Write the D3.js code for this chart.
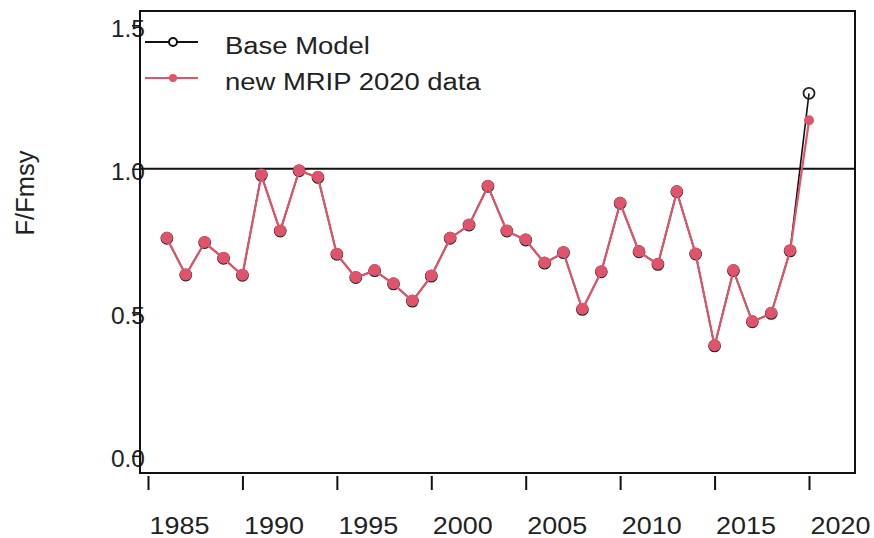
<!DOCTYPE html>
<html lang="en">
  <head>
    <meta charset="utf-8">
    <script type="text/javascript" src="https://cdn.jsdelivr.net/npm/d3@7/dist/d3.min.js"></script>
    <style>
      body { margin: 0; background: #fff; }
      text { font-family: "Liberation Sans", Arial, sans-serif; fill: #222; }
    </style>
  </head>
  <body>
    <svg id="chart"></svg>
  </body>
  <script type="text/javascript">
    var width = 874;
    var height = 538;

    // data
    var years = [1986, 1987, 1988, 1989, 1990, 1991, 1992, 1993, 1994, 1995,
                 1996, 1997, 1998, 1999, 2000, 2001, 2002, 2003, 2004, 2005,
                 2006, 2007, 2008, 2009, 2010, 2011, 2012, 2013, 2014, 2015,
                 2016, 2017, 2018, 2019, 2020];
    var baseModel = [0.758, 0.630, 0.743, 0.688, 0.629, 0.978, 0.783, 0.993, 0.970, 0.702,
                     0.621, 0.645, 0.599, 0.539, 0.626, 0.758, 0.804, 0.939, 0.783, 0.752,
                     0.671, 0.708, 0.510, 0.641, 0.880, 0.711, 0.667, 0.920, 0.703, 0.383,
                     0.645, 0.467, 0.496, 0.714, 1.263];
    var newMrip = [0.758, 0.630, 0.743, 0.688, 0.629, 0.978, 0.783, 0.993, 0.970, 0.702,
                   0.621, 0.645, 0.599, 0.539, 0.626, 0.758, 0.804, 0.939, 0.783, 0.752,
                   0.671, 0.708, 0.510, 0.641, 0.880, 0.711, 0.667, 0.920, 0.703, 0.383,
                   0.645, 0.467, 0.496, 0.714, 1.167];
    var xTicks = [1985, 1990, 1995, 2000, 2005, 2010, 2015, 2020];
    var yTicks = [0, 0.5, 1.0, 1.5];
    var seriesNames = ["Base Model", "new MRIP 2020 data"];
    var refLine = 1.0;

    var red = "#DF536B";
    var box = {left: 140, right: 855, top: 11, bottom: 473};

    var svg = d3.select("#chart").attr("width", width).attr("height", height);

    // scales
    var x = d3.scaleLinear().domain([1985, 2020]).range([148, 809]);
    var y = d3.scaleLinear().domain([0, 1.5]).range([455.8, 25.3]);

    var baseData = years.map(function(d, i) { return {year: d, v: baseModel[i]}; });
    var newData = years.map(function(d, i) { return {year: d, v: newMrip[i]}; });

    // x axis (ticks below the box, labels shifted right like the original)
    var xAxis = d3.axisBottom(x).tickValues(xTicks).tickSize(14).tickPadding(0)
      .tickFormat(d3.format("d"));
    var gx = svg.append("g")
      .attr("transform", "translate(0," + (box.bottom + 3) + ")")
      .call(xAxis);
    gx.select(".domain").remove();
    gx.selectAll(".tick line").attr("stroke", "#111").attr("stroke-width", 2);
    gx.selectAll(".tick text")
      .attr("y", 0).attr("dy", 0)
      .attr("transform", "translate(31,58) scale(1.1,1)")
      .style("font-size", "24.5px")
      .attr("fill", "#222");

    // y axis
    var yAxis = d3.axisLeft(y).tickValues(yTicks).tickSize(8).tickPadding(0)
      .tickFormat(d3.format(".1f"));
    var gy = svg.append("g")
      .attr("transform", "translate(" + box.left + ",0)")
      .call(yAxis);
    gy.select(".domain").remove();
    gy.selectAll(".tick line").attr("stroke", "#111").attr("stroke-width", 1.5);
    gy.selectAll(".tick text")
      .attr("x", 5).attr("dy", 0).attr("y", 11)
      .attr("text-anchor", "end")
      .style("font-size", "24.5px")
      .attr("fill", "#222");

    // reference line at 1
    svg.append("line")
      .attr("x1", box.left).attr("x2", box.right)
      .attr("y1", y(refLine)).attr("y2", y(refLine))
      .attr("stroke", "#111").attr("stroke-width", 2);

    var line = d3.line()
      .x(function(d) { return x(d.year); })
      .y(function(d) { return y(d.v); });

    // base model
    svg.append("path").datum(baseData)
      .attr("d", line).attr("fill", "none")
      .attr("stroke", "#111").attr("stroke-width", 1.6);
    svg.selectAll("circle.base").data(baseData).enter()
      .append("circle").attr("class", "base")
      .attr("cx", function(d) { return x(d.year); })
      .attr("cy", function(d) { return y(d.v); })
      .attr("r", 5.5)
      .attr("fill", "none").attr("stroke", "#222").attr("stroke-width", 1.8);

    // new MRIP
    svg.append("path").datum(newData)
      .attr("d", line).attr("fill", "none")
      .attr("stroke", red).attr("stroke-width", 2.2);
    svg.selectAll("circle.newm").data(newData).enter()
      .append("circle").attr("class", "newm")
      .attr("cx", function(d) { return x(d.year); })
      .attr("cy", function(d, i) { return y(d.v) - 0.6; })
      .attr("r", function(d, i) { return i === newData.length - 1 ? 5 : 6; })
      .attr("fill", red);

    // box
    svg.append("rect")
      .attr("x", box.left).attr("y", box.top)
      .attr("width", box.right - box.left).attr("height", box.bottom - box.top)
      .attr("fill", "none").attr("stroke", "#111").attr("stroke-width", 2);

    // y label
    svg.append("text")
      .attr("transform", "translate(34,193) rotate(-90)")
      .attr("text-anchor", "middle")
      .style("font-size", "25.5px")
      .text("F/Fmsy");

    // legend
    var legColors = ["#111", red];
    var leg = svg.selectAll("g.leg").data(seriesNames).enter()
      .append("g").attr("class", "leg")
      .attr("transform", function(d, i) { return "translate(0," + (42 + i * 36) + ")"; });
    leg.append("line")
      .attr("x1", 145).attr("x2", 198).attr("y1", 0).attr("y2", 0)
      .attr("stroke", function(d, i) { return legColors[i]; })
      .attr("stroke-width", function(d, i) { return i ? 2.2 : 1.8; });
    leg.append("circle")
      .attr("cx", 173).attr("cy", 0).attr("r", 4)
      .attr("fill", function(d, i) { return i ? red : "#fff"; })
      .attr("stroke", function(d, i) { return i ? "none" : "#111"; })
      .attr("stroke-width", 2);
    leg.append("text")
      .attr("transform", "translate(225,12) scale(1.12,1)")
      .style("font-size", "24.5px")
      .text(function(d) { return d; });
  </script>
</html>
